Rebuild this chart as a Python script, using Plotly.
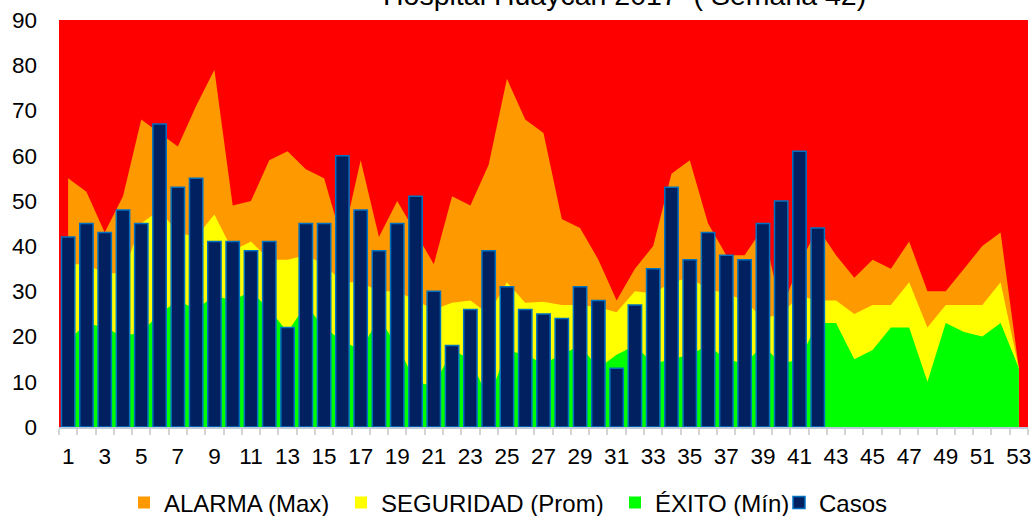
import plotly.graph_objects as go

semanas = list(range(1, 54))
casos = [42, 45, 43, 48, 45, 67, 53, 55, 41, 41, 39, 41, 22, 45, 45, 60, 48, 39, 45, 51,
         30, 18, 26, 39, 31, 26, 25, 24, 31, 28, 13, 27, 35, 53, 37, 43, 38, 37, 45, 50,
         61, 44]
alarma_max = [55, 52, 43, 51, 68, 65, 62, 71, 79, 49, 50, 59, 61, 57, 55, 41, 59, 42, 50, 43,
              36, 51, 49, 58, 77, 68, 65, 46, 44, 37, 28, 35, 40, 56, 59, 45, 38, 38, 44, 26,
              36, 44, 38, 33, 37, 35, 41, 30, 30, 35, 40, 43, 13]
seguridad_prom = [36, 36, 34, 34, 45, 48, 43, 42, 47, 39, 41, 37, 37, 38, 36, 32, 32, 30, 30, 28,
                  26, 27.5, 28, 25, 32, 27.5, 27.7, 27, 27, 26.5, 25.4, 30, 29.5, 32, 33, 30.5, 29.5, 28, 24, 25,
                  29, 28, 28, 25, 27, 27, 32, 22, 27, 27, 27, 32, 13]
exito_min = [19, 23, 22, 20, 21, 25, 28, 26, 29, 28, 30, 26, 21, 27, 22, 19, 17, 24, 18, 10,
             9, 17, 15, 6, 17, 16, 14, 16, 18, 13, 16, 18, 14, 15, 16, 18, 15, 14, 18, 14,
             15, 23, 23, 15, 17, 22, 22, 10, 23, 21, 20, 23, 13]

titulo = "Hospital Huaycán 2017  ( Semana 42)"
etiquetas_x = [str(s) for s in semanas if s % 2 == 1]
valores_y = list(range(0, 91, 10))

ROJO = "#FF0000"
NARANJA = "#FF9900"
AMARILLO = "#FFFF00"
VERDE = "#00FF00"
AZUL_OSCURO = "#002060"
AZUL_BORDE = "#0070C0"
FONT = "Liberation Sans, Arial, sans-serif"

fig = go.Figure()

for nombre, serie, color in [("ALARMA (Max)", alarma_max, NARANJA),
                             ("SEGURIDAD (Prom)", seguridad_prom, AMARILLO),
                             ("ÉXITO (Mín)", exito_min, VERDE)]:
    fig.add_trace(go.Scatter(x=semanas, y=serie, mode="lines", fill="tozeroy",
                             fillcolor=color, line=dict(width=0, color=color),
                             showlegend=False, hoverinfo="skip", name=nombre))

leg_names = ["legend", "legend2", "legend3"]
for (nombre, color), lg in zip([("ALARMA (Max)", NARANJA),
                                ("SEGURIDAD (Prom)", AMARILLO),
                                ("ÉXITO (Mín)", VERDE)], leg_names):
    fig.add_trace(go.Bar(x=[None], y=[None], name=nombre, marker=dict(color=color, line=dict(width=0)),
                         xaxis="x2", yaxis="y2", legend=lg))

fig.add_trace(go.Bar(x=semanas[:len(casos)], y=casos, name="Casos",
                     marker=dict(color=AZUL_OSCURO, line=dict(color=AZUL_BORDE, width=1.5)),
                     xaxis="x2", yaxis="y2", legend="legend4"))

x_range = [0.5, 53.5]
limites = [s - 0.5 for s in semanas] + [semanas[-1] + 0.5]

leg_common = dict(orientation="h", xref="container", yref="container",
                  xanchor="left", yanchor="middle", y=1 - 503 / 516,
                  font=dict(family=FONT, size=24, color="black"),
                  bgcolor="rgba(0,0,0,0)", borderwidth=0)

fig.update_layout(
    width=1034, height=516,
    margin=dict(l=59, r=6, t=20, b=89, autoexpand=False),
    paper_bgcolor="white",
    plot_bgcolor=ROJO,
    barmode="overlay",
    bargap=0.27,
    font=dict(family=FONT, size=22, color="black"),
    xaxis=dict(range=x_range, tickmode="array",
               tickvals=[s for s in semanas if s % 2 == 1], ticktext=etiquetas_x,
               ticks="", showgrid=False, zeroline=False, automargin=False,
               showline=True, linecolor="#BFCBDB", linewidth=1.5,
               tickfont=dict(family=FONT, size=22.5, color="black"),
               ticklabelstandoff=8,
               minor=dict(tickmode="array", tickvals=limites, ticks="outside",
                          ticklen=6, tickwidth=1.5, tickcolor="#D4D4D4", showgrid=False)),
    yaxis=dict(range=[0, 90], tickmode="array", tickvals=valores_y,
               ticks="", showgrid=False, zeroline=False, showline=False, automargin=False,
               tickfont=dict(family=FONT, size=22.5, color="black"),
               ticklabelstandoff=21),
    xaxis2=dict(range=x_range, overlaying="x", visible=False),
    yaxis2=dict(range=[0, 90], overlaying="y", visible=False),
    legend=dict(x=124 / 1034, **leg_common),
    legend2=dict(x=341 / 1034, **leg_common),
    legend3=dict(x=615 / 1034, **leg_common),
    legend4=dict(x=779 / 1034, **leg_common),
    annotations=[dict(text=titulo, xref="paper", yref="paper",
                      x=(624 - 59) / 968.6, y=1 + (20 - 13) / 407,
                      xanchor="center", yanchor="bottom", showarrow=False,
                      font=dict(family=FONT, size=28.5, color="black"))],
)

fig.write_html("out.html", config={"displayModeBar": False},
               post_script="document.body.style.margin='0';document.body.style.overflow='hidden';")
